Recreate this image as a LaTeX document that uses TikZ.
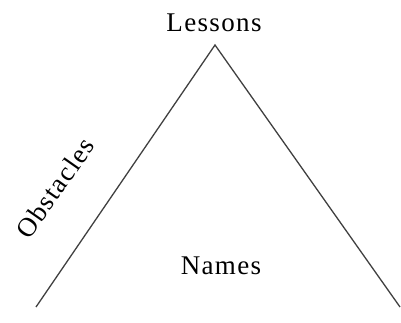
\documentclass[tikz,border=0pt]{standalone}
\usepackage{fontspec}
\setmainfont{Liberation Serif}
\newfontfamily\labelfont[LetterSpace=5]{Liberation Serif}
\usepackage{tikz}
\usetikzlibrary{positioning}

\begin{document}
\begin{tikzpicture}[
        x=1pt, y=1pt,
        lbl/.style={inner sep=0pt, font=\labelfont\fontsize{27}{30}\selectfont},
        side/.style={draw=black!75, line width=1.3pt}
    ]
    \useasboundingbox (0,0) rectangle (401,322);

    \coordinate (apex)  at (215,277);
    \coordinate (left)  at (36,15);
    \coordinate (right) at (400,15);

    \node[lbl] (lessons)   at (214,299) {Lessons};
    \node[lbl] (names)     at (221,56)  {Names};
    \node[lbl, rotate=55] (obstacles) at (55,134) {Obstacles};

    \draw[side] (left) -- (apex) -- (right);
\end{tikzpicture}
\end{document}
